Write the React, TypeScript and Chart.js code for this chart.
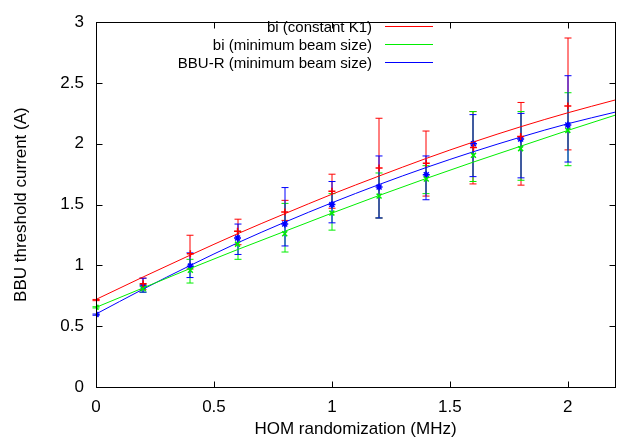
import React, { useEffect, useRef } from 'react';
import { Chart, registerables } from 'chart.js';

Chart.register(...registerables);

// ---- data ----
const xValues = [0, 0.2, 0.4, 0.6, 0.8, 1.0, 1.2, 1.4, 1.6, 1.8, 2.0];

const redMean = [0.716, 0.85, 1.095, 1.28, 1.44, 1.61, 1.8, 1.84, 1.97, 2.06, 2.31];
const redLow = [0.71, 0.8, 0.97, 1.17, 1.37, 1.47, 1.39, 1.57, 1.67, 1.66, 1.95];
const redHigh = [0.72, 0.895, 1.248, 1.38, 1.535, 1.75, 2.21, 2.105, 2.265, 2.34, 2.87];

const greenMean = [0.655, 0.81, 0.96, 1.175, 1.26, 1.43, 1.57, 1.71, 1.905, 1.96, 2.11];
const greenLow = [0.65, 0.78, 0.855, 1.05, 1.11, 1.29, 1.39, 1.59, 1.69, 1.7, 1.82];
const greenHigh = [0.66, 0.84, 1.05, 1.28, 1.51, 1.59, 1.76, 1.82, 2.265, 2.265, 2.42];

const blueMean = [0.596, 0.83, 0.994, 1.225, 1.34, 1.5, 1.645, 1.745, 2.0, 2.04, 2.155];
const blueLow = [0.59, 0.78, 0.9, 1.09, 1.16, 1.35, 1.39, 1.54, 1.73, 1.72, 1.85];
const blueHigh = [0.6, 0.895, 1.103, 1.34, 1.64, 1.69, 1.9, 1.9, 2.24, 2.25, 2.56];

const fitX = [0, 0.2, 0.4, 0.6, 0.8, 1.0, 1.2, 1.4, 1.6, 1.8, 2.0, 2.2];
const redFit = [0.72, 0.905, 1.085, 1.26, 1.425, 1.585, 1.735, 1.88, 2.015, 2.14, 2.255, 2.36];
const greenFit = [0.655, 0.815, 0.975, 1.13, 1.28, 1.43, 1.575, 1.715, 1.85, 1.98, 2.11, 2.235];
const blueFit = [0.6, 0.805, 1.0, 1.185, 1.355, 1.515, 1.665, 1.805, 1.935, 2.055, 2.165, 2.26];

const xTicks = [0, 0.5, 1, 1.5, 2];
const yTicks = [0, 0.5, 1, 1.5, 2, 2.5, 3];

const seriesNames = ['bi (constant K1)', 'bi (minimum beam size)', 'BBU-R (minimum beam size)'];
const seriesColors = ['#ff0000', '#00ee00', '#0000ff'];
const pointStyles = ['cross', 'crossRot', 'star'];

const FONT = "'Liberation Sans', Arial, Helvetica, sans-serif";

const pts = (xs: number[], ys: number[]) => xs.map((x, i) => ({ x, y: ys[i] }));

const errorBarPlugin = {
  id: 'errorBars',
  beforeDatasetsDraw(chart: any) {
    const { ctx, scales } = chart;
    const xs = scales.x;
    const ys = scales.y;
    const groups = [
      [redLow, redHigh],
      [greenLow, greenHigh],
      [blueLow, blueHigh],
    ];
    ctx.save();
    ctx.lineWidth = 1;
    groups.forEach((g, gi) => {
      xValues.forEach((xv, i) => {
        const px = Math.round(xs.getPixelForValue(xv));
        const pl = ys.getPixelForValue(g[0][i]);
        const ph = ys.getPixelForValue(g[1][i]);
        ctx.strokeStyle = seriesColors[gi];
        ctx.beginPath();
        ctx.moveTo(px, pl);
        ctx.lineTo(px, ph);
        ctx.moveTo(px - 3.5, pl);
        ctx.lineTo(px + 3.5, pl);
        ctx.moveTo(px - 3.5, ph);
        ctx.lineTo(px + 3.5, ph);
        ctx.stroke();
      });
    });
    ctx.restore();
  },
};

const framePlugin = {
  id: 'frame',
  afterDraw(chart: any) {
    const { ctx, chartArea: a, scales } = chart;
    ctx.save();
    ctx.strokeStyle = '#000';
    ctx.lineWidth = 1;
    const L = Math.round(a.left) + 0.5;
    const R = Math.round(a.right) + 0.5;
    const T = Math.round(a.top) + 0.5;
    const B = Math.round(a.bottom) + 0.5;
    ctx.strokeRect(L, T, R - L, B - T);
    ctx.beginPath();
    yTicks.forEach((v) => {
      const py = Math.round(scales.y.getPixelForValue(v)) + 0.5;
      ctx.moveTo(L, py);
      ctx.lineTo(L + 6, py);
      ctx.moveTo(R, py);
      ctx.lineTo(R - 6, py);
    });
    xTicks.forEach((v) => {
      const px = Math.round(scales.x.getPixelForValue(v)) + 0.5;
      ctx.moveTo(px, B);
      ctx.lineTo(px, B - 6);
      ctx.moveTo(px, T);
      ctx.lineTo(px, T + 6);
    });
    ctx.stroke();

    // key
    ctx.font = `15px ${FONT}`;
    ctx.textAlign = 'right';
    ctx.textBaseline = 'middle';
    ctx.fillStyle = '#000';
    seriesNames.forEach((name, i) => {
      const y = 26.5 + i * 18;
      ctx.fillText(name, 372, y + 1);
      ctx.strokeStyle = seriesColors[i];
      ctx.beginPath();
      ctx.moveTo(385, y);
      ctx.lineTo(433, y);
      ctx.stroke();
    });
    ctx.restore();
  },
};

export default function App() {
  const ref = useRef<HTMLCanvasElement | null>(null);

  useEffect(() => {
    if (!ref.current) return;
    const fits = [redFit, greenFit, blueFit];
    const means = [redMean, greenMean, blueMean];
    const datasets: any[] = [];
    [0, 1, 2].forEach((i) => {
      datasets.push({
        label: seriesNames[i],
        data: pts(fitX, fits[i]),
        borderColor: seriesColors[i],
        borderWidth: 1,
        pointRadius: 0,
        showLine: true,
        fill: false,
        cubicInterpolationMode: 'monotone',
      });
      datasets.push({
        label: seriesNames[i] + ' data',
        data: pts(xValues, means[i]),
        borderColor: seriesColors[i],
        backgroundColor: seriesColors[i],
        borderWidth: 1.5,
        pointStyle: pointStyles[i],
        pointRadius: 3.5,
        showLine: false,
      });
    });

    const chart = new Chart(ref.current, {
      type: 'scatter',
      data: { datasets },
      options: {
        animation: false,
        responsive: false,
        devicePixelRatio: 1,
        layout: { padding: { top: 12, right: 6, left: 0, bottom: 0 } },
        plugins: { legend: { display: false }, tooltip: { enabled: false } },
        scales: {
          x: {
            type: 'linear',
            min: 0,
            max: 2.2,
            afterBuildTicks: (s: any) => {
              s.ticks = xTicks.map((v) => ({ value: v }));
            },
            afterFit: (s: any) => {
              s.height = 56;
            },
            grid: { display: false, drawTicks: false },
            border: { display: false },
            ticks: {
              color: '#000',
              font: { family: FONT, size: 17 },
              padding: 10,
              maxRotation: 0,
              callback: (v: any) => String(v),
            },
            title: {
              display: true,
              text: 'HOM randomization (MHz)',
              color: '#000',
              font: { family: FONT, size: 17 },
              padding: { top: 0, bottom: 3 },
            },
          },
          y: {
            type: 'linear',
            min: 0,
            max: 3,
            afterBuildTicks: (s: any) => {
              s.ticks = yTicks.map((v) => ({ value: v }));
            },
            afterFit: (s: any) => {
              s.width = 96;
            },
            grid: { display: false, drawTicks: false },
            border: { display: false },
            ticks: {
              color: '#000',
              font: { family: FONT, size: 17 },
              padding: 12,
              callback: (v: any) => String(v),
            },
            title: {
              display: true,
              text: 'BBU threshold current (A)',
              color: '#000',
              font: { family: FONT, size: 17 },
              padding: { top: 11, bottom: 0 },
            },
          },
        },
      },
      plugins: [errorBarPlugin, framePlugin],
    });
    return () => chart.destroy();
  }, []);

  return (
    <canvas
      ref={ref}
      width={621}
      height={443}
      style={{ position: 'absolute', left: 0, top: 0, width: 621, height: 443, display: 'block' }}
    />
  );
}
